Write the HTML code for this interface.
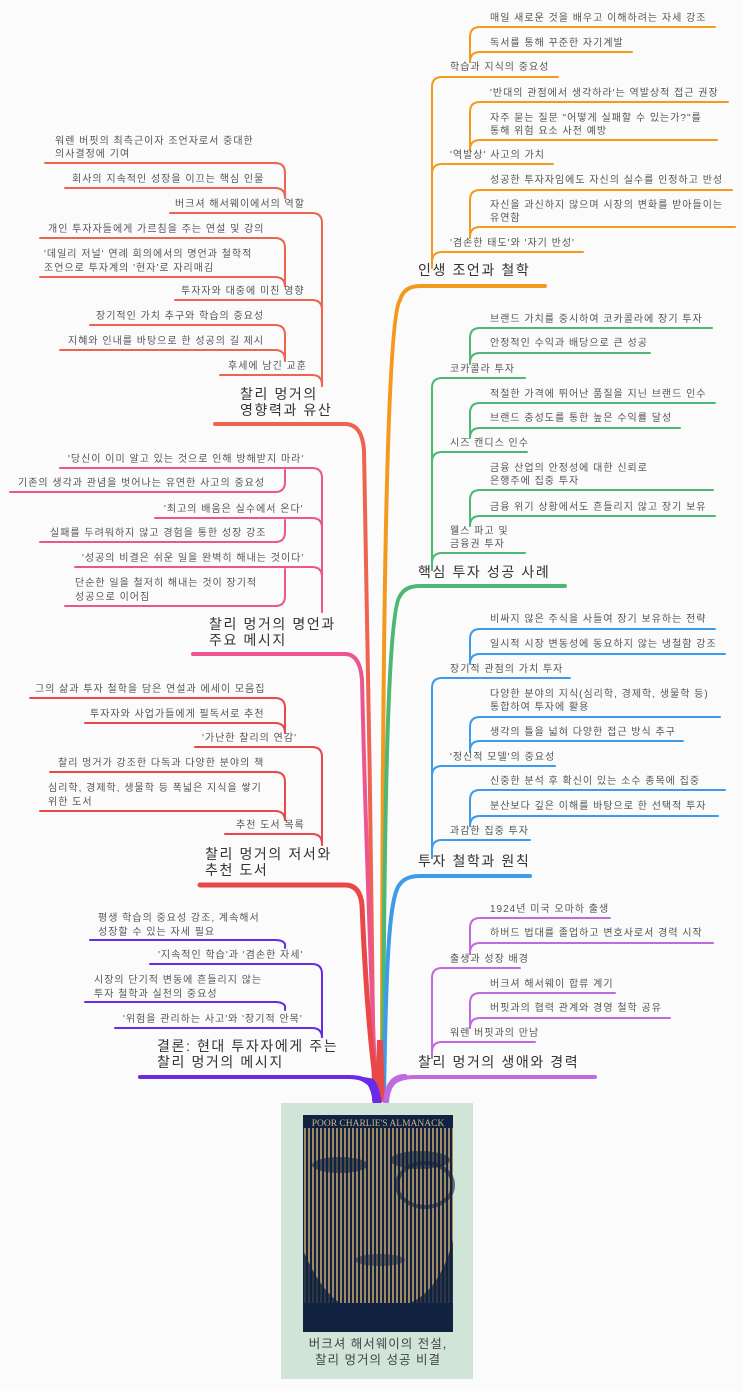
<!DOCTYPE html>
<html><head><meta charset="utf-8"><style>
html,body{margin:0;padding:0;background:#fbfbfb;}
svg{display:block;}
text{font-family:"Liberation Sans","Noto Sans CJK KR",sans-serif;fill:#555;font-size:10px;letter-spacing:1px;}
.m{font-size:14px;fill:#333;letter-spacing:1.6px;}
</style></head><body>
<svg width="743" height="1391" viewBox="0 0 743 1391" xmlns="http://www.w3.org/2000/svg">
<defs>
<pattern id="st" width="4" height="4" patternUnits="userSpaceOnUse"><rect width="2" height="4" fill="#b89c6c"/></pattern>
</defs>
<g fill="none" stroke-linecap="round">
<path d="M382 1100 C382 700 385 320 400 300 Q404 286 420 286 H545" stroke="#f39a1e" stroke-width="4"/>
<path d="M383 1100 C384 800 388 610 400 596 Q405 586 420 586 H565" stroke="#4cb874" stroke-width="4"/>
<path d="M384 1100 C386 950 390 895 400 884 Q406 876 420 876 H530" stroke="#3d9be9" stroke-width="4"/>
<path d="M386 1100 C388 1085 395 1077 415 1077 H595" stroke="#c06ae0" stroke-width="4"/>
<path d="M215 424 H345 Q362 424 364 450 C368 650 372 900 374 1100" stroke="#ee6450" stroke-width="4"/>
<path d="M193 654 H345 Q360 654 362 680 C366 850 372 1000 376 1100" stroke="#ec5590" stroke-width="4"/>
<path d="M200 885 H345 Q360 885 362 905 C366 1000 372 1060 378 1100" stroke="#e84848" stroke-width="5"/>
<path d="M140 1077 H350 Q372 1077 378 1100" stroke="#6a2be8" stroke-width="4"/>
<path d="M375 1102 L377 1040 L383 1040 L385 1102 Z" fill="#e84848" stroke="none"/>
<path d="M355 1077 Q372 1077 374 1102 L380 1102 Q378 1085 372 1080 Z" fill="#6a2be8" stroke="#6a2be8" stroke-width="3"/>
<path d="M405 1077 Q388 1077 386 1102" stroke="#c06ae0" stroke-width="6"/>

<g stroke="#f39a1e" stroke-width="2">
<path d="M432 268 V87 Q432 77 442 77 H558"/>
<path d="M432 268 V174 Q432 164 442 164 H553"/>
<path d="M432 268 V262 Q432 252 442 252 H583"/>
<path d="M470 62 V37 Q470 27 480 27 H715"/>
<path d="M470 62 V62 Q470 52 480 52 H632"/>
<path d="M470 150 V112 Q470 102 480 102 H728"/>
<path d="M470 150 V150 Q470 140 480 140 H717"/>
<path d="M470 238 V200 Q470 190 480 190 H732"/>
<path d="M470 238 V237 Q470 227 480 227 H735"/>
</g>
<g stroke="#4cb874" stroke-width="2">
<path d="M432 570 V388 Q432 378 442 378 H525"/>
<path d="M432 570 V462 Q432 452 442 452 H527"/>
<path d="M432 570 V563 Q432 553 442 553 H525"/>
<path d="M470 364 V338 Q470 328 480 328 H712"/>
<path d="M470 364 V363 Q470 353 480 353 H650"/>
<path d="M470 438 V413 Q470 403 480 403 H715"/>
<path d="M470 438 V438 Q470 428 480 428 H680"/>
<path d="M470 526 V500 Q470 490 480 490 H713"/>
<path d="M470 526 V526 Q470 516 480 516 H715"/>
</g>
<g stroke="#3d9be9" stroke-width="2">
<path d="M432 858 V688 Q432 678 442 678 H570"/>
<path d="M432 858 V776 Q432 766 442 766 H555"/>
<path d="M432 858 V850 Q432 840 442 840 H530"/>
<path d="M470 664 V639 Q470 629 480 629 H715"/>
<path d="M470 664 V664 Q470 654 480 654 H725"/>
<path d="M470 752 V727 Q470 717 480 717 H720"/>
<path d="M470 752 V751 Q470 741 480 741 H683"/>
<path d="M470 826 V800 Q470 790 480 790 H725"/>
<path d="M470 826 V826 Q470 816 480 816 H718"/>
</g>
<g stroke="#c06ae0" stroke-width="2">
<path d="M432 1058 V978 Q432 968 442 968 H520"/>
<path d="M432 1058 V1052 Q432 1042 442 1042 H535"/>
<path d="M470 954 V928 Q470 918 480 918 H610"/>
<path d="M470 954 V953 Q470 943 480 943 H713"/>
<path d="M470 1028 V1003 Q470 993 480 993 H615"/>
<path d="M470 1028 V1028 Q470 1018 480 1018 H670"/>
</g>
<g stroke="#ee6450" stroke-width="2">
<path d="M322 386 V223 Q322 213 312 213 H170"/>
<path d="M322 386 V310 Q322 300 312 300 H175"/>
<path d="M322 386 V385 Q322 375 312 375 H220"/>
<path d="M285 198 V173 Q285 163 275 163 H45"/>
<path d="M285 198 V198 Q285 188 275 188 H65"/>
<path d="M285 286 V248 Q285 238 275 238 H40"/>
<path d="M285 286 V287 Q285 277 275 277 H40"/>
<path d="M285 361 V335 Q285 325 275 325 H90"/>
<path d="M285 361 V360 Q285 350 275 350 H60"/>
</g>
<g stroke="#ec5590" stroke-width="2">
<path d="M322 612 V478 Q322 468 312 468 H60"/>
<path d="M322 612 V528 Q322 518 312 518 H155"/>
<path d="M322 612 V577 Q322 567 312 567 H75"/>
<path d="M285 470 V482 Q285 492 275 492 H10"/>
<path d="M285 520 V532 Q285 542 275 542 H40"/>
<path d="M285 569 V596 Q285 606 275 606 H65"/>
</g>
<g stroke="#e84848" stroke-width="2">
<path d="M322 845 V757 Q322 747 312 747 H195"/>
<path d="M322 845 V844 Q322 834 312 834 H225"/>
<path d="M285 733 V708 Q285 698 275 698 H30"/>
<path d="M285 733 V733 Q285 723 275 723 H85"/>
<path d="M285 820 V782 Q285 772 275 772 H50"/>
<path d="M285 820 V821 Q285 811 275 811 H40"/>
</g>
<g stroke="#6a2be8" stroke-width="2">
<path d="M322 1034 V974 Q322 964 312 964 H150"/>
<path d="M322 1034 V1038 Q322 1028 312 1028 H115"/>
<path d="M285 948 V944 Q283 940 275 940 H90"/>
<path d="M285 1010 V1006 Q283 1002 275 1002 H85"/>
</g>
</g>

<text class="m" x="418" y="275">인생 조언과 철학</text>
<text class="m" x="418" y="577">핵심 투자 성공 사례</text>
<text class="m" x="418" y="866">투자 철학과 원칙</text>
<text class="m" x="418" y="1067">찰리 멍거의 생애와 경력</text>
<text class="m" x="240" y="399">찰리 멍거의</text><text class="m" x="240" y="415">영향력과 유산</text>
<text class="m" x="209" y="629">찰리 멍거의 명언과</text><text class="m" x="209" y="645">주요 메시지</text>
<text class="m" x="205" y="859">찰리 멍거의 저서와</text><text class="m" x="205" y="875">추천 도서</text>
<text class="m" x="157" y="1051">결론: 현대 투자자에게 주는</text><text class="m" x="157" y="1067">찰리 멍거의 메시지</text>

<text x="450" y="70">학습과 지식의 중요성</text>
<text x="450" y="158">'역발상' 사고의 가치</text>
<text x="450" y="246">'겸손한 태도'와 '자기 반성'</text>
<text x="490" y="21">매일 새로운 것을 배우고 이해하려는 자세 강조</text>
<text x="490" y="46">독서를 통해 꾸준한 자기계발</text>
<text x="490" y="96">'반대의 관점에서 생각하라'는 역발상적 접근 권장</text>
<text x="490" y="121">자주 묻는 질문 "어떻게 실패할 수 있는가?"를</text><text x="490" y="134">통해 위험 요소 사전 예방</text>
<text x="490" y="183">성공한 투자자임에도 자신의 실수를 인정하고 반성</text>
<text x="490" y="208">자신을 과신하지 않으며 시장의 변화를 받아들이는</text><text x="490" y="221">유연함</text>
<text x="450" y="372">코카콜라 투자</text>
<text x="450" y="446">시즈 캔디스 인수</text>
<text x="450" y="534">웰스 파고 및</text><text x="450" y="547">금융권 투자</text>
<text x="490" y="322">브랜드 가치를 중시하여 코카콜라에 장기 투자</text>
<text x="490" y="346">안정적인 수익과 배당으로 큰 성공</text>
<text x="490" y="397">적절한 가격에 뛰어난 품질을 지닌 브랜드 인수</text>
<text x="490" y="421">브랜드 충성도를 통한 높은 수익률 달성</text>
<text x="490" y="471">금융 산업의 안정성에 대한 신뢰로</text><text x="490" y="484">은행주에 집중 투자</text>
<text x="490" y="510">금융 위기 상황에서도 흔들리지 않고 장기 보유</text>
<text x="450" y="672">장기적 관점의 가치 투자</text>
<text x="450" y="760">'정신적 모델'의 중요성</text>
<text x="450" y="834">과감한 집중 투자</text>
<text x="490" y="622">비싸지 않은 주식을 사들여 장기 보유하는 전략</text>
<text x="490" y="647">일시적 시장 변동성에 동요하지 않는 냉철함 강조</text>
<text x="490" y="697">다양한 분야의 지식(심리학, 경제학, 생물학 등)</text><text x="490" y="710">통합하여 투자에 활용</text>
<text x="490" y="735">생각의 틀을 넓혀 다양한 접근 방식 추구</text>
<text x="490" y="784">신중한 분석 후 확신이 있는 소수 종목에 집중</text>
<text x="490" y="809">분산보다 깊은 이해를 바탕으로 한 선택적 투자</text>
<text x="450" y="962">출생과 성장 배경</text>
<text x="450" y="1036">워렌 버핏과의 만남</text>
<text x="490" y="912">1924년 미국 오마하 출생</text>
<text x="490" y="936">하버드 법대를 졸업하고 변호사로서 경력 시작</text>
<text x="490" y="987">버크셔 해서웨이 합류 계기</text>
<text x="490" y="1011">버핏과의 협력 관계와 경영 철학 공유</text>
<text x="175" y="207">버크셔 해서웨이에서의 역할</text>
<text x="181" y="294">투자자와 대중에 미친 영향</text>
<text x="228" y="369">후세에 남긴 교훈</text>
<text x="55" y="144">워렌 버핏의 최측근이자 조언자로서 중대한</text><text x="55" y="157">의사결정에 기여</text>
<text x="72" y="182">회사의 지속적인 성장을 이끄는 핵심 인물</text>
<text x="48" y="232">개인 투자자들에게 가르침을 주는 연설 및 강의</text>
<text x="44" y="257">'데일리 저널' 연례 회의에서의 명언과 철학적</text><text x="44" y="271">조언으로 투자계의 '현자'로 자리매김</text>
<text x="96" y="319">장기적인 가치 추구와 학습의 중요성</text>
<text x="68" y="344">지혜와 인내를 바탕으로 한 성공의 길 제시</text>
<text x="68" y="462">'당신이 이미 알고 있는 것으로 인해 방해받지 마라'</text>
<text x="18" y="486">기존의 생각과 관념을 벗어나는 유연한 사고의 중요성</text>
<text x="164" y="512">'최고의 배움은 실수에서 온다'</text>
<text x="50" y="536">실패를 두려워하지 않고 경험을 통한 성장 강조</text>
<text x="82" y="561">'성공의 비결은 쉬운 일을 완벽히 해내는 것이다'</text>
<text x="75" y="586">단순한 일을 철저히 해내는 것이 장기적</text><text x="75" y="600">성공으로 이어짐</text>
<text x="35" y="692">그의 삶과 투자 철학을 담은 연설과 에세이 모음집</text>
<text x="90" y="717">투자자와 사업가들에게 필독서로 추천</text>
<text x="202" y="741">'가난한 찰리의 연감'</text>
<text x="58" y="766">찰리 멍거가 강조한 다독과 다양한 분야의 책</text>
<text x="48" y="791">심리학, 경제학, 생물학 등 폭넓은 지식을 쌓기</text><text x="48" y="805">위한 도서</text>
<text x="236" y="828">추천 도서 목록</text>
<text x="98" y="921">평생 학습의 중요성 강조, 계속해서</text><text x="98" y="935">성장할 수 있는 자세 필요</text>
<text x="158" y="958">'지속적인 학습'과 '겸손한 자세'</text>
<text x="94" y="983">시장의 단기적 변동에 흔들리지 않는</text><text x="94" y="997">투자 철학과 실천의 중요성</text>
<text x="123" y="1022">'위험을 관리하는 사고'와 '장기적 안목'</text>

<rect x="281" y="1103" width="192" height="276" fill="#d0e5d8"/>
<rect x="303" y="1115" width="150" height="217" fill="#10223f"/>
<rect x="303" y="1128" width="150" height="175" fill="url(#st)" opacity="0.85"/>
<path d="M303 1250 Q320 1290 340 1303 L303 1303 Z" fill="#10223f" opacity="0.8"/>
<path d="M453 1240 Q440 1290 410 1303 L453 1303 Z" fill="#10223f" opacity="0.8"/>
<ellipse cx="340" cy="1165" rx="28" ry="8" fill="#10223f" opacity="0.6"/>
<ellipse cx="420" cy="1160" rx="30" ry="9" fill="#10223f" opacity="0.6"/>
<ellipse cx="425" cy="1185" rx="28" ry="22" fill="none" stroke="#10223f" stroke-width="4" opacity="0.6"/>
<ellipse cx="380" cy="1260" rx="25" ry="6" fill="#10223f" opacity="0.5"/>
<text x="378" y="1126" text-anchor="middle" style="font-family:'Liberation Serif',serif;font-size:9.5px;fill:#c9b48a;letter-spacing:0">POOR CHARLIE'S ALMANACK</text>
<text x="378" y="1348" text-anchor="middle" style="font-size:12.5px;fill:#444">버크셔 해서웨이의 전설,</text>
<text x="378" y="1364" text-anchor="middle" style="font-size:12.5px;fill:#444">찰리 멍거의 성공 비결</text>
</svg>
</body></html>
